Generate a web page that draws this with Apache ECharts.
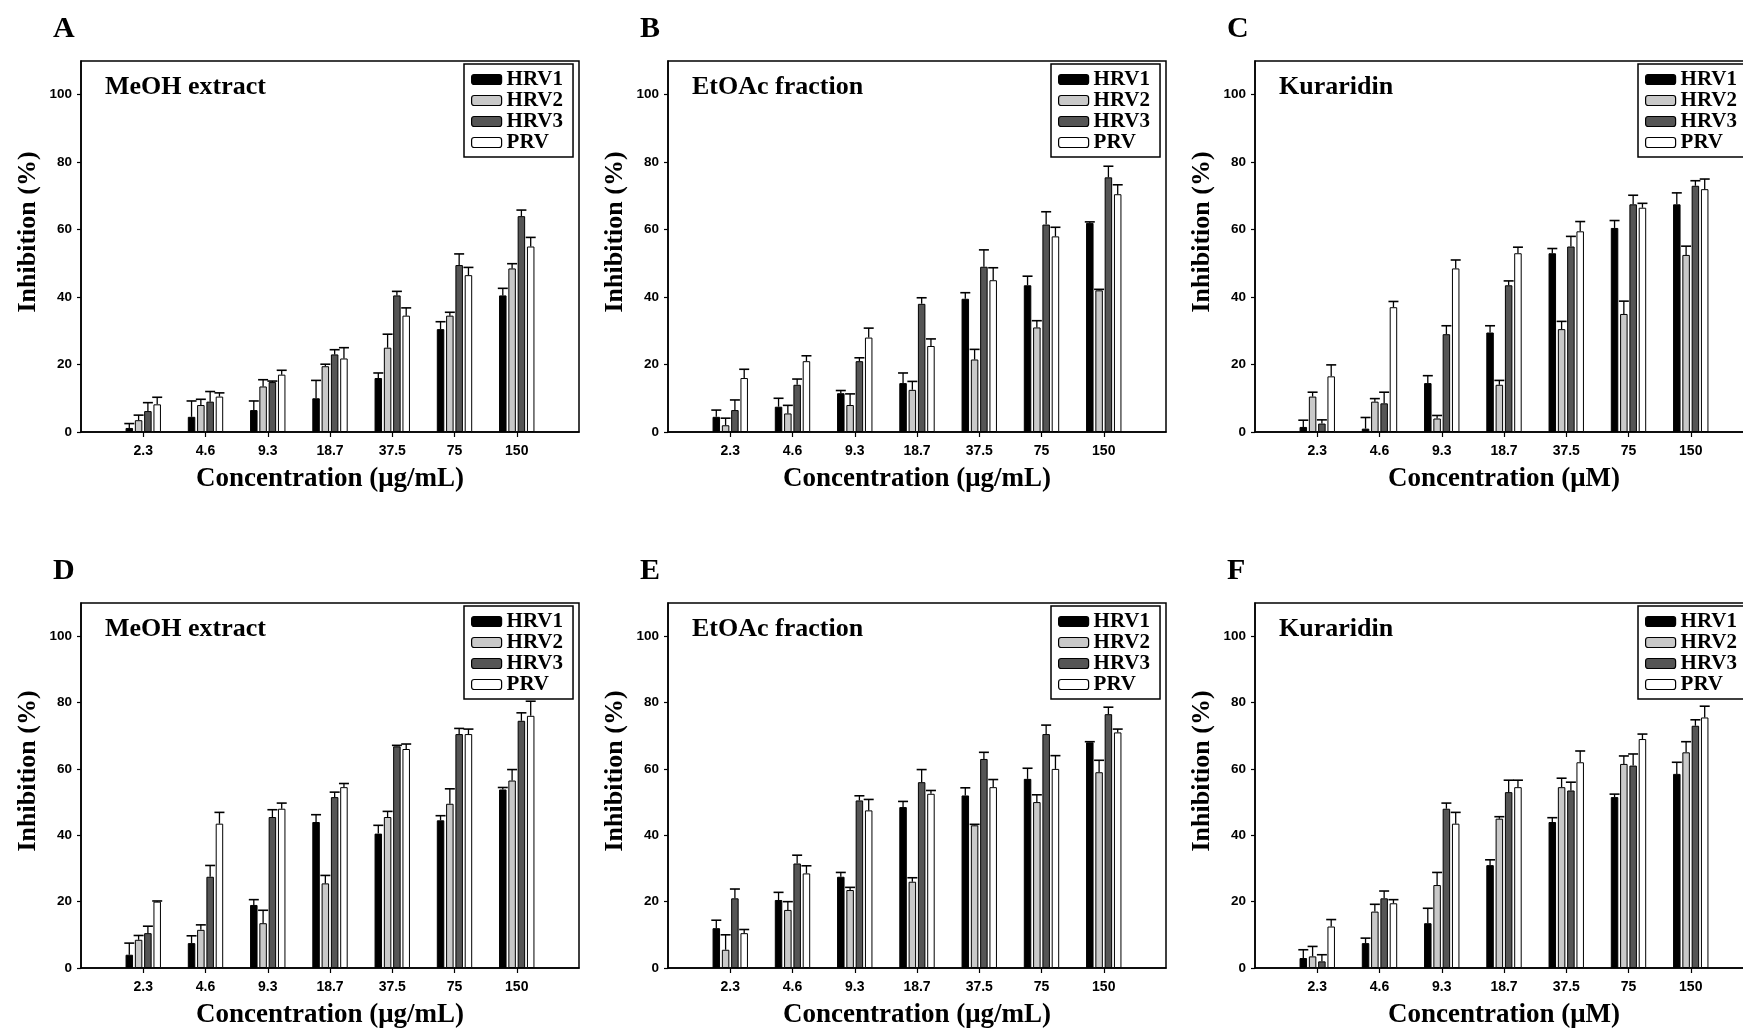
<!DOCTYPE html>
<html><head><meta charset="utf-8">
<script src="https://cdn.jsdelivr.net/npm/echarts@6/dist/echarts.min.js"></script>
<style>html,body{margin:0;padding:0;background:#fff}#c{width:1743px;height:1034px}</style>
</head><body><div id="c"></div><script>
// ---------- data ----------
const categories = ['2.3', '4.6', '9.3', '18.7', '37.5', '75', '150'];
const seriesNames = ['HRV1', 'HRV2', 'HRV3', 'PRV'];
const panelLetters = ['A', 'B', 'C', 'D', 'E', 'F'];
const panelTitles = ['MeOH extract', 'EtOAc fraction', 'Kuraridin', 'MeOH extract', 'EtOAc fraction', 'Kuraridin'];
const xAxisNames = ['Concentration (μg/mL)', 'Concentration (μg/mL)', 'Concentration (μM)',
                    'Concentration (μg/mL)', 'Concentration (μg/mL)', 'Concentration (μM)'];
const yAxisName = 'Inhibition (%)';
const yTicks = [0, 20, 40, 60, 80, 100];

// Panel A
const A_HRV1 = [1.2, 4.5, 6.5, 10, 16, 30.5, 40.5];
const A_HRV2 = [3.5, 8, 13.5, 19.5, 25, 34.5, 48.5];
const A_HRV3 = [6.2, 9, 14.8, 23, 40.5, 49.5, 64];
const A_PRV  = [8.2, 10.5, 17, 21.8, 34.5, 46.5, 55];
const A_HRV1_err = [1.3, 4.7, 2.7, 5.3, 1.5, 2.2, 2.1];
const A_HRV2_err = [1.5, 1.7, 2, 0.6, 4, 1, 1.4];
const A_HRV3_err = [2.5, 3, 0.3, 1.4, 1.2, 3.3, 1.8];
const A_PRV_err  = [2.1, 1.1, 1.3, 3.2, 2.3, 2.3, 2.7];
// Panel B
const B_HRV1 = [4.5, 7.5, 11.5, 14.5, 39.5, 43.5, 62];
const B_HRV2 = [2, 5.5, 8, 12.5, 21.5, 31, 42];
const B_HRV3 = [6.5, 14, 21, 38, 49, 61.5, 75.5];
const B_PRV  = [16, 21, 28, 25.5, 45, 58, 70.5];
const B_HRV1_err = [2, 2.5, 0.8, 3, 1.8, 2.7, 0.3];
const B_HRV2_err = [2.1, 2.4, 3.3, 2.5, 3, 2, 0.3];
const B_HRV3_err = [3, 1.7, 1, 1.8, 5, 3.8, 3.3];
const B_PRV_err  = [2.6, 1.6, 2.8, 2.1, 3.7, 2.7, 2.8];
// Panel C
const C_HRV1 = [1.5, 1, 14.5, 29.5, 53, 60.5, 67.5];
const C_HRV2 = [10.5, 9, 4, 14, 30.5, 35, 52.5];
const C_HRV3 = [2.5, 8.5, 29, 43.5, 55, 67.5, 73];
const C_PRV  = [16.5, 37, 48.5, 53, 59.5, 66.5, 72];
const C_HRV1_err = [2, 3.3, 2.2, 2, 1.4, 2.2, 3.4];
const C_HRV2_err = [1.3, 0.9, 0.9, 1.3, 2.3, 3.8, 2.6];
const C_HRV3_err = [1.1, 3.3, 2.5, 1.3, 3, 2.7, 1.5];
const C_PRV_err  = [3.4, 1.7, 2.5, 1.8, 2.9, 1.3, 3];
// Panel D
const D_HRV1 = [4, 7.5, 19, 44, 40.5, 44.5, 53.8];
const D_HRV2 = [8.5, 11.5, 13.5, 25.5, 45.5, 49.5, 56.5];
const D_HRV3 = [10.5, 27.5, 45.5, 51.5, 66.8, 70.5, 74.5];
const D_PRV  = [20, 43.5, 48, 54.5, 66, 70.5, 76];
const D_HRV1_err = [3.5, 2.2, 1.6, 2.2, 2.5, 1.4, 0.6];
const D_HRV2_err = [1.3, 1.5, 3.9, 2.4, 1.7, 4.5, 3.3];
const D_HRV3_err = [2.1, 3.4, 2.2, 1.5, 0.3, 1.7, 2.4];
const D_PRV_err  = [0.2, 3.4, 1.7, 1.1, 1.5, 1.5, 4.4];
// Panel E
const E_HRV1 = [12, 20.5, 27.5, 48.5, 52, 57, 68];
const E_HRV2 = [5.5, 17.5, 23.5, 26, 43, 50, 59];
const E_HRV3 = [21, 31.5, 50.5, 56, 63, 70.5, 76.5];
const E_PRV  = [10.5, 28.5, 47.5, 52.5, 54.5, 60, 71];
const E_HRV1_err = [2.4, 2.3, 1.3, 1.7, 2.3, 3.2, 0.2];
const E_HRV2_err = [4.5, 2.5, 0.8, 1.2, 0.3, 2.2, 3.6];
const E_HRV3_err = [2.8, 2.5, 1.4, 3.8, 2, 2.7, 2.1];
const E_PRV_err  = [1.1, 2.3, 3.3, 1, 2.3, 4, 1];
// Panel F
const F_HRV1 = [3, 7.5, 13.5, 31, 44, 51.5, 58.5];
const F_HRV2 = [3.5, 17, 25, 45, 54.5, 61.5, 65];
const F_HRV3 = [2, 21, 48, 53, 53.5, 61, 73];
const F_PRV  = [12.5, 19.5, 43.5, 54.5, 62, 69, 75.5];
const F_HRV1_err = [2.5, 1.5, 4.5, 1.6, 1.3, 0.9, 3.5];
const F_HRV2_err = [3, 2.2, 3.8, 0.6, 2.7, 2.4, 3.2];
const F_HRV3_err = [2, 2.2, 1.7, 3.6, 2.5, 3.5, 1.8];
const F_PRV_err  = [2.1, 1.1, 3.4, 2.1, 3.4, 1.5, 3.4];

// ---------- assembly ----------
const panelValues = [
  [A_HRV1, A_HRV2, A_HRV3, A_PRV], [B_HRV1, B_HRV2, B_HRV3, B_PRV], [C_HRV1, C_HRV2, C_HRV3, C_PRV],
  [D_HRV1, D_HRV2, D_HRV3, D_PRV], [E_HRV1, E_HRV2, E_HRV3, E_PRV], [F_HRV1, F_HRV2, F_HRV3, F_PRV]
];
const panelErrors = [
  [A_HRV1_err, A_HRV2_err, A_HRV3_err, A_PRV_err], [B_HRV1_err, B_HRV2_err, B_HRV3_err, B_PRV_err],
  [C_HRV1_err, C_HRV2_err, C_HRV3_err, C_PRV_err], [D_HRV1_err, D_HRV2_err, D_HRV3_err, D_PRV_err],
  [E_HRV1_err, E_HRV2_err, E_HRV3_err, E_PRV_err], [F_HRV1_err, F_HRV2_err, F_HRV3_err, F_PRV_err]
];

// ---------- styling / layout ----------
const SERIF = "'Liberation Serif', 'Times New Roman', serif";
const SANS = "'Liberation Sans', Arial, sans-serif";
const colors = ['#000000', '#c9c9c9', '#555555', '#ffffff'];
const colLeft = [81, 668, 1255];
const rowTop = [61, 603];
const rowHeight = [371, 365];
const GRID_W = 498;
const BAR_W = 7.5;
const BAR_GAP = 0.24;
const PITCH = BAR_W * (1 + BAR_GAP);
const tickPos = categories.map((c, i) => i + 1);

const grids = [], xAxes = [], yAxes = [], series = [], legends = [], titles = [];

for (let p = 0; p < 6; p++) {
  const r = Math.floor(p / 3), c = p % 3;
  const left = colLeft[c], top = rowTop[r], h = rowHeight[r];
  grids.push({
    left: left, top: top, width: GRID_W, height: h,
    show: true, borderColor: '#000', borderWidth: 1.5, backgroundColor: 'transparent',
    containLabel: false, outerBoundsMode: 'none'
  });
  xAxes.push({
    type: 'value', gridIndex: p, min: 0, max: categories.length + 1, interval: 1,
    axisLine: { show: true, lineStyle: { color: '#000', width: 1.5 } },
    axisTick: { show: true, length: 5, customValues: tickPos, lineStyle: { color: '#000', width: 1.2 } },
    axisLabel: {
      show: true, customValues: tickPos, margin: 12,
      formatter: v => categories[Math.round(v) - 1] || '',
      fontFamily: SANS, fontWeight: 'bold', fontSize: 14, color: '#000'
    },
    splitLine: { show: false },
    name: xAxisNames[p], nameLocation: 'middle', nameGap: 34,
    nameTextStyle: { fontFamily: SERIF, fontWeight: 'bold', fontSize: 27, lineHeight: 27, color: '#000' }
  });
  yAxes.push({
    type: 'value', gridIndex: p, min: 0, max: 110, interval: 20,
    axisLine: { show: true, lineStyle: { color: '#000', width: 1.5 } },
    axisTick: { show: true, length: 4, customValues: yTicks, lineStyle: { color: '#000', width: 1.2 } },
    axisLabel: {
      show: true, customValues: yTicks, margin: 9,
      fontFamily: SANS, fontWeight: 'bold', fontSize: 13.5, color: '#000'
    },
    splitLine: { show: false },
    name: yAxisName, nameLocation: 'middle', nameGap: 40, nameRotate: 90,
    nameTextStyle: { fontFamily: SERIF, fontWeight: 'bold', fontSize: 26, lineHeight: 26, color: '#000', padding: [0, 0, 0, 29] }
  });
  for (let k = 0; k < 4; k++) {
    const vals = panelValues[p][k];
    const errs = panelErrors[p][k];
    series.push({
      type: 'bar', name: seriesNames[k], xAxisIndex: p, yAxisIndex: p,
      barWidth: BAR_W, barGap: (BAR_GAP * 100) + '%',
      itemStyle: { color: colors[k], borderColor: '#000', borderWidth: 1 },
      emphasis: { disabled: true },
      data: categories.map((cat, i) => [i + 1, vals[i]]),
      z: 2
    });
    series.push({
      type: 'custom', xAxisIndex: p, yAxisIndex: p,
      encode: { x: 0, y: 1 },
      data: categories.map((cat, i) => [i + 1, vals[i], errs[i]]),
      z: 3, silent: true,
      renderItem: (function (kk) {
        return function (params, api) {
          const x = api.value(0), v = api.value(1), e = api.value(2);
          const base = api.coord([x, v]);
          const tp = api.coord([x, v + e]);
          const cx = base[0] + (kk - 1.5) * PITCH;
          return {
            type: 'group', children: [
              { type: 'line', shape: { x1: cx, y1: base[1], x2: cx, y2: tp[1] }, style: { stroke: '#000', lineWidth: 1.3 } },
              { type: 'line', shape: { x1: cx - 5, y1: tp[1], x2: cx + 5, y2: tp[1] }, style: { stroke: '#000', lineWidth: 1.6 } }
            ]
          };
        };
      })(k)
    });
  }
  legends.push({
    orient: 'vertical', left: left + GRID_W - 115, top: top + 3,
    data: seriesNames, selectedMode: false,
    itemWidth: 30, itemHeight: 10, itemGap: 0,
    padding: [5, 10, 4, 7],
    borderColor: '#000', borderWidth: 1.5, backgroundColor: '#fff',
    itemStyle: { borderColor: '#000', borderWidth: 1.2 },
    textStyle: { fontFamily: SERIF, fontWeight: 'bold', fontSize: 21, lineHeight: 18.5, color: '#000' }
  });
  titles.push({
    text: panelLetters[p], left: left - 28, top: top - 47, padding: 0,
    textStyle: { fontFamily: SERIF, fontWeight: 'bold', fontSize: 30, lineHeight: 30, color: '#000' }
  });
  titles.push({
    text: panelTitles[p], left: left + 24, top: top + 13.5, padding: 0,
    textStyle: { fontFamily: SERIF, fontWeight: 'bold', fontSize: 26, lineHeight: 26, color: '#000' }
  });
}

const chart = echarts.init(document.getElementById('c'), null, { renderer: 'canvas' });
chart.setOption({
  animation: false,
  backgroundColor: '#fff',
  title: titles,
  legend: legends,
  grid: grids,
  xAxis: xAxes,
  yAxis: yAxes,
  series: series
});
</script></body></html>
